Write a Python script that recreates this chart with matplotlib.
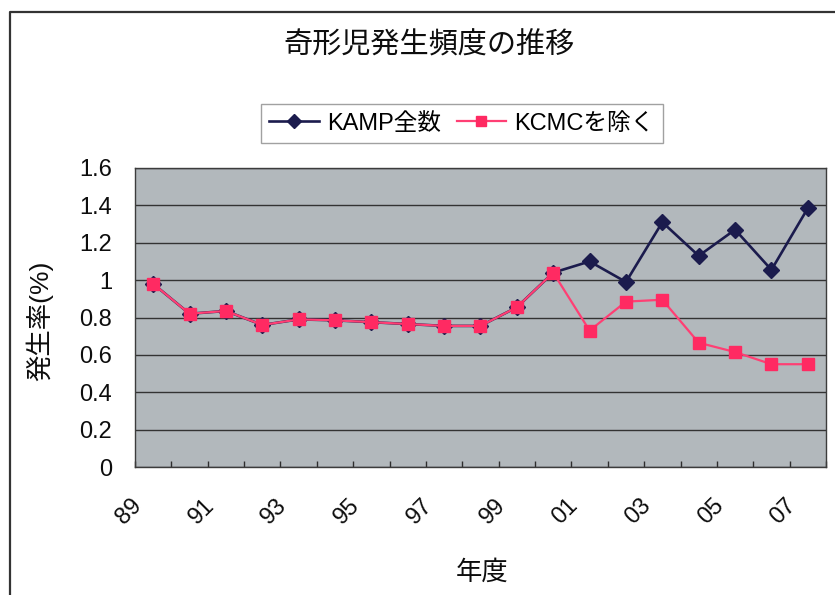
import matplotlib
matplotlib.use("Agg")
import matplotlib.pyplot as plt
import matplotlib.transforms as mtransforms
from matplotlib.lines import Line2D

plt.rcParams['font.family'] = ['Liberation Sans', 'Noto Sans CJK JP', 'DejaVu Sans']

# fiscal years 89 .. 07
years = ["89", "90", "91", "92", "93", "94", "95", "96", "97", "98",
         "99", "00", "01", "02", "03", "04", "05", "06", "07"]
kamp_all = [0.98, 0.82, 0.835, 0.76, 0.79, 0.785, 0.775, 0.765, 0.755, 0.755,
            0.855, 1.04, 1.10, 0.99, 1.31, 1.13, 1.27, 1.055, 1.385]
excl_kcmc = [0.98, 0.82, 0.835, 0.76, 0.79, 0.785, 0.775, 0.765, 0.755, 0.755,
             0.855, 1.04, 0.73, 0.885, 0.895, 0.665, 0.615, 0.55, 0.55]
yticks = [0, 0.2, 0.4, 0.6, 0.8, 1, 1.2, 1.4, 1.6]

navy = "#1b1b4d"
pink = "#ff2a62"
dark = "#2e2e2e"
ink = "#0d0d0d"

fig = plt.figure(figsize=(8.35, 5.95), dpi=100)
ax = fig.add_axes([135 / 835, 1 - 467 / 595, 691 / 835, 299 / 595])
ax.set_facecolor("#b2b8bc")

x = list(range(len(years)))
ax.plot(x, kamp_all, color=navy, lw=1.9, marker="D", ms=8,
        mfc=navy, mec=navy, zorder=3)
ax.plot(x, excl_kcmc, color="#ff3f74", lw=1.6, marker="s", ms=9,
        mfc=pink, mec=pink, zorder=4)

ax.set_xlim(-0.5, len(years) - 0.5)
ax.set_ylim(0, 1.6)
ax.set_yticks(yticks)
ax.set_yticklabels(["%g" % v for v in yticks], fontsize=17, color=ink)
ax.yaxis.grid(True, color="#333333", lw=1.0)
ax.set_axisbelow(True)
ax.tick_params(axis="y", length=0, pad=16.5)

# category labels every other year, boundary ticks between categories
ax.set_xticks(x[::2])
ax.set_xticklabels(years[::2], fontsize=17, color=ink, rotation=45,
                   ha="right", va="center", rotation_mode="anchor")
ax.set_xticks([i - 0.5 for i in range(len(years) + 1)], minor=True)
ax.tick_params(axis="x", which="major", length=0, pad=25)
ax.tick_params(axis="x", which="minor", direction="in", length=4,
               width=1, color=dark)
shift = mtransforms.ScaledTranslation(-0.15, 0, fig.dpi_scale_trans)
for lab in ax.get_xticklabels():
    lab.set_transform(lab.get_transform() + shift)

for s in ax.spines.values():
    s.set_color("#3c3c3c")
    s.set_linewidth(1.0)

ax.set_ylabel("発生率(%)", fontsize=19, color=ink)
ax.yaxis.set_label_coords(-0.118, 0.49)
ax.set_xlabel("年度", fontsize=19, color=ink)
ax.xaxis.set_label_coords(0.502, -0.311)

fig.text(429 / 835, 1 - 46 / 595, "奇形児発生頻度の推移", fontsize=21,
         ha="center", va="center", color=ink)

handles = [
    Line2D([], [], color=navy, lw=1.9, marker="D", ms=7, mfc=navy, mec=navy),
    Line2D([], [], color="#ff3f74", lw=1.6, marker="s", ms=7, mfc=pink, mec=pink),
]
leg = fig.legend(handles, ["KAMP全数", "KCMCを除く"], ncol=2, loc="center",
                 bbox_to_anchor=(462 / 835, 1 - 123.5 / 595), fontsize=17,
                 frameon=True, fancybox=False, handlelength=2.1,
                 handletextpad=0.35, columnspacing=0.65, borderpad=0.35)
leg.get_frame().set_edgecolor("#8a8a8a")
leg.get_frame().set_linewidth(1.0)

# outer chart border (top and left edges)
fig.add_artist(Line2D([10 / 835, 10 / 835, 1], [0, 1 - 12 / 595, 1 - 12 / 595],
                      transform=fig.transFigure, color="#333333", lw=1.6))

fig.savefig("out.png", dpi=100)
